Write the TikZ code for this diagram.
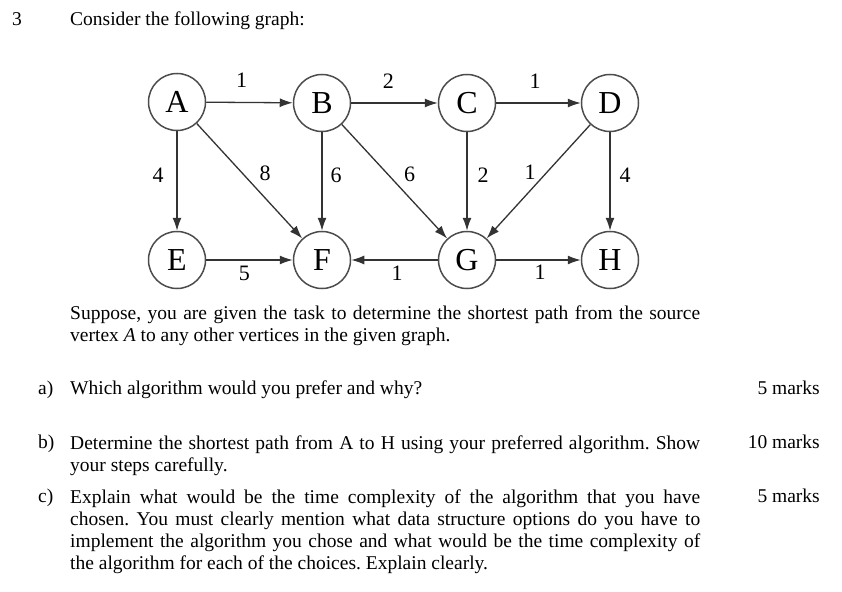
\documentclass[tikz,border=0pt]{standalone}
\usepackage{fontspec}
\setmainfont{Liberation Serif}
\usetikzlibrary{arrows.meta, positioning}

\begin{document}
\frenchspacing
\begin{tikzpicture}[x=1pt, y=-1pt,
    every node/.style={font=\fontsize{19.5}{22}\selectfont},
    vertex/.style={circle, draw=black!70, line width=1.5pt, minimum size=57pt, inner sep=0pt, font=\fontsize{32}{33}\selectfont},
    edge/.style={draw=black!80, line width=1.3pt, -{Latex[length=13pt, width=9pt]}},
    wt/.style={inner sep=0pt, font=\fontsize{22}{24}\selectfont},
    txt/.style={anchor=base west, inner sep=0pt},
    para/.style={anchor=north west, inner sep=0pt, text width=630pt, align=justify},
    marks/.style={anchor=base east, inner sep=0pt}]
    \useasboundingbox (0,0) rectangle (842,591);

    % heading
    \node[txt] (qno) at (12,26) {3};
    \node[txt] (intro) at (70,26) {Consider the following graph:};

    % top row
    \node[vertex] (A) at (177,102) {A};
    \node[vertex] (B) at (322,103) {B};
    \node[vertex] (C) at (467,103) {C};
    \node[vertex] (D) at (610,103) {D};

    % bottom row
    \node[vertex] (E) at (177,260) {E};
    \node[vertex] (F) at (322,260) {F};
    \node[vertex] (G) at (467,260) {G};
    \node[vertex] (H) at (610,260) {H};

    % horizontal edges
    \draw[edge] (A) -- node[wt, pos=0.41, yshift=22pt] (wAB) {1} (B);
    \draw[edge] (B) -- node[wt, pos=0.43, yshift=22pt] (wBC) {2} (C);
    \draw[edge] (C) -- node[wt, pos=0.46, yshift=22pt] (wCD) {1} (D);
    \draw[edge] (E) -- node[wt, pos=0.44, yshift=-13pt] (wEF) {5} (F);
    \draw[edge] (G) -- node[wt, pos=0.47, yshift=-13pt] (wGF) {1} (F);
    \draw[edge] (G) -- node[wt, pos=0.52, yshift=-12pt] (wGH) {1} (H);

    % vertical edges
    \draw[edge] (A) -- node[wt, pos=0.44, xshift=-19pt] (wAE) {4} (E);
    \draw[edge] (B) -- node[wt, pos=0.44, xshift=14pt] (wBF) {6} (F);
    \draw[edge] (C) -- node[wt, pos=0.44, xshift=16pt] (wCG) {2} (G);
    \draw[edge] (D) -- node[wt, pos=0.44, xshift=15pt] (wDH) {4} (H);

    % diagonal edges
    \draw[edge] (A) -- node[wt, pos=0.53, xshift=12.5pt, yshift=11.5pt] (wAF) {8} (F);
    \draw[edge] (B) -- node[wt, pos=0.53, xshift=12pt, yshift=11pt] (wBG) {6} (G);
    \draw[edge] (D) -- node[wt, pos=0.49, xshift=-9.5pt, yshift=8.5pt] (wDG) {1} (G);

    % question text
    \node[para] (task) at (70,305.5) {Suppose, you are given the task to determine the shortest path from the source\linebreak vertex \textit{A} to any other vertices in the given graph.};

    \node[txt] (qa) at (38,394) {a)};
    \node[txt] (ta) at (70,394) {Which algorithm would you prefer and why?};
    \node[marks] (ma) at (820,394) {5 marks};

    \node[txt] (qb) at (38,448) {b)};
    \node[para] (tb) at (70,436) {Determine the shortest path from A to H using your preferred algorithm. Show\linebreak your steps carefully.};
    \node[marks] (mb) at (820,448) {10 marks};

    \node[txt] (qc) at (38,502) {c)};
    \node[para] (tc) at (70,490) {Explain what would be the time complexity of the algorithm that you have\linebreak chosen. You must clearly mention what data structure options do you have to\linebreak implement the algorithm you chose and what would be the time complexity of\linebreak the algorithm for each of the choices. Explain clearly.};
    \node[marks] (mc) at (820,502) {5 marks};
\end{tikzpicture}
\end{document}
